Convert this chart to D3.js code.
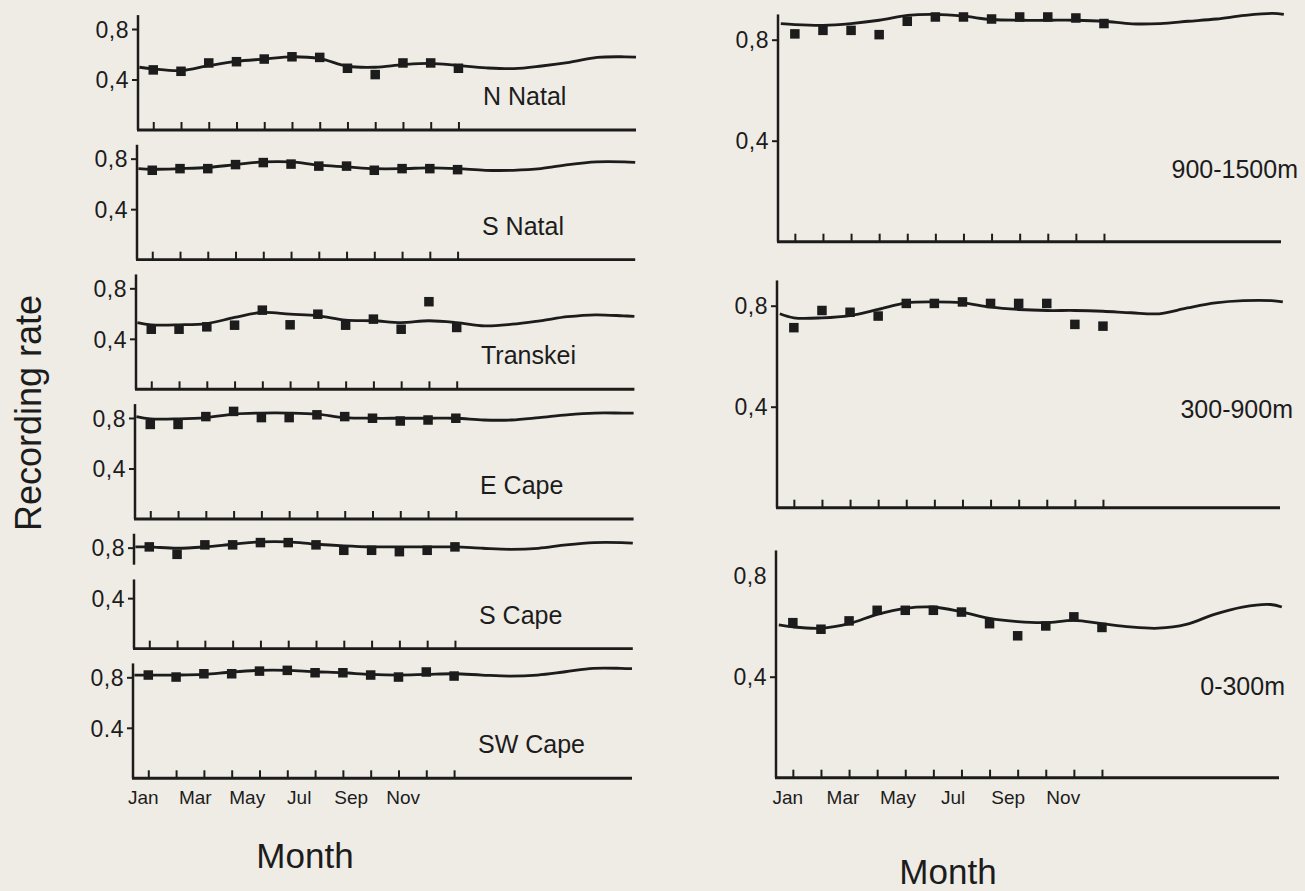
<!DOCTYPE html>
<html>
<head>
<meta charset="utf-8">
<script src="https://cdn.jsdelivr.net/npm/d3@7"></script>
<style>
  html, body { margin: 0; padding: 0; background: #efece6; }
  svg { display: block; }
  text { font-family: "Liberation Sans", Arial, Helvetica, sans-serif; fill: #1c1c1c; }
</style>
</head>
<body>
<svg id="chart" width="1305" height="891"></svg>
<script>
// ---- data ---------------------------------------------------------------
// month index 0 = Jan ... 11 = Dec; fitted curves run on past December
const monthNames = ["Jan","Feb","Mar","Apr","May","Jun","Jul","Aug","Sep","Oct","Nov","Dec"];
const monthLabelIdx = [0, 2, 4, 6, 8, 10];
const obsMonths = [0,1,2,3,4,5,6,7,8,9,10,11];
const fitMonths = [-0.5,0,1,2,3,4,5,6,7,8,9,10,11,12,13,14,15,16,17,17.4];
const yTickValues = [0.4, 0.8];

// regional panels (left column)
const regionNames = ["N Natal","S Natal","Transkei","E Cape","S Cape","SW Cape"];
const nNatalObs  = [0.476,0.465,0.531,0.541,0.562,0.580,0.575,0.489,0.439,0.531,0.531,0.489];
const nNatalFit  = [0.497,0.484,0.471,0.510,0.544,0.562,0.580,0.565,0.505,0.497,0.518,0.528,0.510,0.492,0.486,0.507,0.536,0.575,0.580,0.578];
const sNatalObs  = [0.708,0.721,0.721,0.753,0.769,0.757,0.741,0.741,0.708,0.721,0.721,0.713];
const sNatalFit  = [0.721,0.716,0.721,0.730,0.753,0.774,0.774,0.748,0.735,0.721,0.721,0.727,0.721,0.708,0.708,0.721,0.753,0.774,0.774,0.770];
const transkeiObs = [0.476,0.476,0.495,0.508,0.627,0.511,0.595,0.508,0.556,0.476,0.694,0.490];
const transkeiFit = [0.529,0.511,0.511,0.521,0.569,0.609,0.595,0.582,0.548,0.543,0.529,0.543,0.529,0.503,0.516,0.543,0.575,0.590,0.582,0.578];
const eCapeObs   = [0.749,0.749,0.811,0.852,0.803,0.803,0.825,0.811,0.798,0.776,0.784,0.798];
const eCapeFit   = [0.811,0.793,0.793,0.803,0.831,0.839,0.839,0.831,0.803,0.798,0.798,0.798,0.798,0.784,0.784,0.803,0.825,0.839,0.839,0.839];
const sCapeObs   = [0.806,0.747,0.822,0.822,0.840,0.840,0.822,0.779,0.779,0.768,0.779,0.806];
const sCapeFit   = [0.806,0.806,0.795,0.806,0.827,0.846,0.846,0.827,0.814,0.806,0.806,0.806,0.806,0.795,0.787,0.795,0.822,0.840,0.840,0.836];
const swCapeObs  = [0.818,0.802,0.828,0.828,0.849,0.855,0.836,0.836,0.818,0.802,0.842,0.810];
const swCapeFit  = [0.818,0.818,0.818,0.823,0.842,0.855,0.855,0.844,0.836,0.823,0.818,0.823,0.828,0.818,0.810,0.818,0.844,0.871,0.871,0.868];

// altitude panels (right column)
const altitudeNames = ["900-1500m","300-900m","0-300m"];
const highObs = [0.823,0.837,0.837,0.820,0.873,0.890,0.890,0.882,0.890,0.890,0.886,0.864];
const highFit = [0.864,0.860,0.857,0.864,0.877,0.896,0.900,0.893,0.880,0.877,0.877,0.877,0.873,0.863,0.864,0.873,0.882,0.896,0.904,0.900];
const midObs  = [0.713,0.781,0.774,0.759,0.809,0.809,0.815,0.809,0.809,0.809,0.726,0.719];
const midFit  = [0.768,0.752,0.752,0.761,0.785,0.811,0.815,0.811,0.794,0.785,0.781,0.781,0.778,0.772,0.768,0.791,0.811,0.820,0.820,0.815];
const lowObs  = [0.614,0.588,0.621,0.663,0.663,0.663,0.656,0.610,0.562,0.601,0.637,0.595];
const lowFit  = [0.605,0.597,0.592,0.610,0.647,0.671,0.676,0.657,0.631,0.618,0.614,0.623,0.610,0.597,0.592,0.607,0.647,0.676,0.686,0.676];

// ---- layout ---------------------------------------------------------------
const ink = "#1c1c1c";
const svg = d3.select("#chart");

const leftPanels = [
  {name: regionNames[0], obs: nNatalObs,  fit: nNatalFit},
  {name: regionNames[1], obs: sNatalObs,  fit: sNatalFit},
  {name: regionNames[2], obs: transkeiObs, fit: transkeiFit},
  {name: regionNames[3], obs: eCapeObs,   fit: eCapeFit},
  {name: regionNames[4], obs: sCapeObs,   fit: sCapeFit, brokenAxis: true},
  {name: regionNames[5], obs: swCapeObs,  fit: swCapeFit, tickLabels: ["0.4","0,8"], showMonths: true}
];
leftPanels.forEach((p, i) => {
  p.domain = [-0.55, 17.4];
  p.x0 = 138 - i;            // y-axis position
  p.x1 = 636 - i * 0.8;      // end of x-axis
  p.zero = 130 + i * 129.66; // baseline (value 0)
  p.y08 = p.zero - 101;      // position of 0.8
  p.top = 0.91;
  p.labelX = 483 - i;
  p.labelY = p.zero - 25;
  p.monthSquash = 0.935;
  p.monthShift = -5;
});

const rightPanels = [
  {name: altitudeNames[0], obs: highObs, fit: highFit},
  {name: altitudeNames[1], obs: midObs,  fit: midFit},
  {name: altitudeNames[2], obs: lowObs,  fit: lowFit, showMonths: true, noTopTick: true}
];
const rightZero = [241.7, 507.7, 777.7];
const rightLabelY = [178, 418, 695];
const rightLabelEnd = [1298, 1293, 1285];
rightPanels.forEach((p, i) => {
  p.domain = [-0.6, 17.3];
  p.x0 = 778 - i;
  p.x1 = 1281 - i;
  p.zero = rightZero[i];
  p.y08 = p.zero - 202;
  p.top = 0.9;
  p.labelX = rightLabelEnd[i];
  p.labelY = rightLabelY[i];
  p.anchorEnd = true;
  p.monthSquash = 0.98;
  p.monthShift = -5;
});

function drawPanel(p) {
  const g = svg.append("g");
  const x = d3.scaleLinear().domain(p.domain).range([p.x0, p.x1]);
  const y = d3.scaleLinear().domain([0, 0.8]).range([p.zero, p.y08]);

  // y axis (with 0,4 and 0,8 ticks pointing outwards)
  const tickLabels = p.tickLabels || ["0,4", "0,8"];
  const yAxis = d3.axisLeft(y).tickValues(yTickValues).tickSize(6).tickPadding(3)
    .tickFormat((d, k) => tickLabels[k]);
  const ya = g.append("g").attr("transform", `translate(${p.x0},0)`).call(yAxis);
  ya.select(".domain").remove();
  ya.selectAll(".tick line").attr("stroke", ink).attr("stroke-width", 2);
  ya.selectAll(".tick text")
    .attr("font-size", 23).attr("fill", ink).attr("dy", "0.36em")
    .attr("letter-spacing", 0.5);
  if (p.noTopTick) ya.selectAll(".tick line").filter(d => d === 0.8).remove();

  // vertical axis line
  const axisSegments = p.brokenAxis ? [[p.top, 0.665], [0.548, 0]] : [[p.top, 0]];
  axisSegments.forEach(([a, b]) => {
    g.append("line").attr("x1", p.x0).attr("x2", p.x0)
      .attr("y1", y(a)).attr("y2", y(b))
      .attr("stroke", ink).attr("stroke-width", 2.5);
  });

  // x axis with inward month ticks
  const xAxis = d3.axisTop(x).tickValues(obsMonths).tickSize(8).tickFormat("");
  const xa = g.append("g").attr("transform", `translate(0,${p.zero})`).call(xAxis);
  xa.select(".domain").remove();
  xa.selectAll(".tick line").attr("stroke", ink).attr("stroke-width", 2);
  g.append("line").attr("x1", p.x0 - 1).attr("x2", p.x1)
    .attr("y1", p.zero).attr("y2", p.zero)
    .attr("stroke", ink).attr("stroke-width", 2.9);

  // month names, set slightly tighter than the tick marks
  if (p.showMonths) {
    const x0 = x(0);
    g.selectAll("text.month").data(monthLabelIdx).join("text").attr("class", "month")
      .attr("x", d => x0 + p.monthShift + (x(d) - x0) * p.monthSquash)
      .attr("y", p.zero + 26)
      .attr("text-anchor", "middle")
      .attr("font-size", 19)
      .text(d => monthNames[d]);
  }

  // fitted curve
  const line = d3.line()
    .x((d, k) => x(fitMonths[k]))
    .y(d => y(d))
    .curve(d3.curveCatmullRom.alpha(0.5));
  g.append("path").datum(p.fit).attr("d", line)
    .attr("fill", "none").attr("stroke", ink).attr("stroke-width", 2.8);

  // monthly observed rates
  const s = 9.5;
  g.selectAll("rect.obs").data(p.obs).join("rect").attr("class", "obs")
    .attr("x", (d, k) => x(obsMonths[k]) - s / 2)
    .attr("y", d => y(d) - s / 2)
    .attr("width", s).attr("height", s)
    .attr("fill", ink);

  // panel name
  g.append("text").attr("x", p.labelX).attr("y", p.labelY)
    .attr("text-anchor", p.anchorEnd ? "end" : "start")
    .attr("font-size", 25)
    .text(p.name);
}

leftPanels.forEach(drawPanel);
rightPanels.forEach(drawPanel);

// axis titles
svg.append("text").attr("transform", "translate(41,413) rotate(-90)")
  .attr("text-anchor", "middle").attr("font-size", 36).text("Recording rate");
svg.append("text").attr("x", 305).attr("y", 868)
  .attr("text-anchor", "middle").attr("font-size", 35).text("Month");
svg.append("text").attr("x", 948).attr("y", 884)
  .attr("text-anchor", "middle").attr("font-size", 35).text("Month");
</script>
</body>
</html>
